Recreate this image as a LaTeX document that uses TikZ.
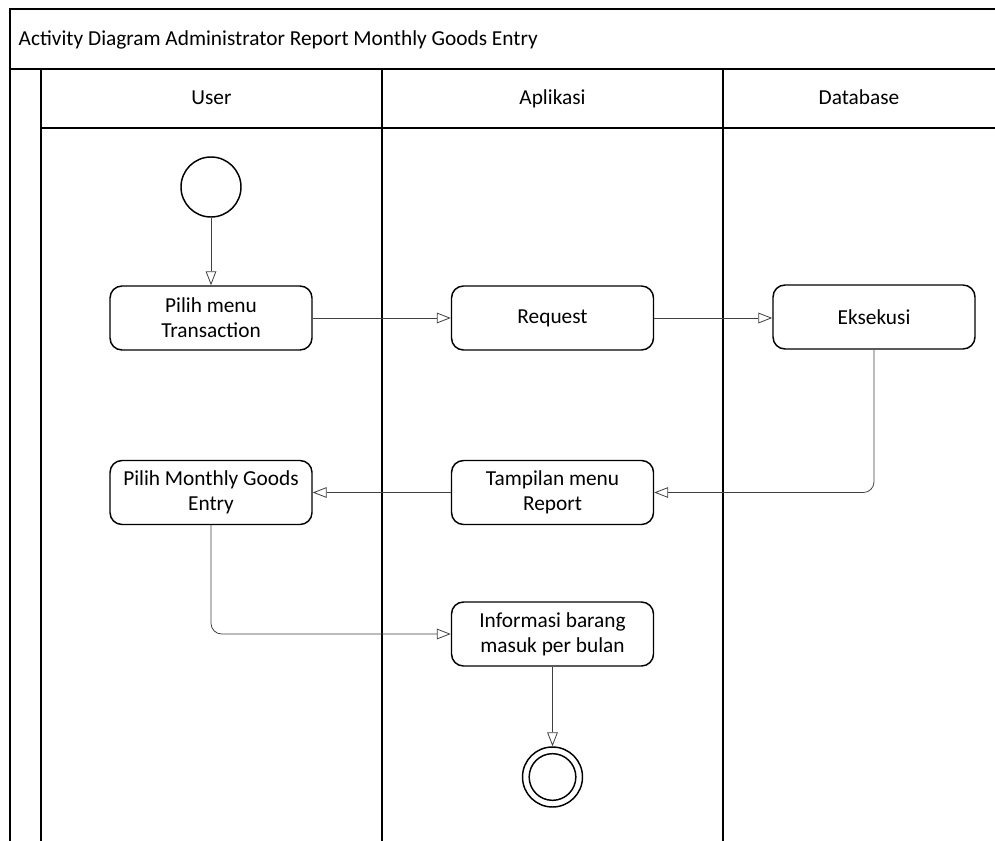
\documentclass[tikz,border=0pt]{standalone}
\usepackage{fontspec}
\setmainfont{Carlito}
\usetikzlibrary{
  calc,
  arrows.meta,
  positioning}

\begin{document}
\begin{tikzpicture}[x=0.75pt,y=-0.75pt]
  \tikzset{lane line/.style={draw=black,line width=1.4pt},
           act box/.style={draw=black,line width=1.1pt,rectangle,rounded corners=9pt,
                           minimum width=151.5pt,minimum height=48pt,align=center,
                           inner sep=2pt,font=\fontsize{16}{19}\selectfont},
           flow/.style={draw=black!75,line width=0.6pt,rounded corners=8pt,
                        -{Triangle[open,length=10.5pt,width=8pt,fill=white]}},
           lane head/.style={font=\fontsize{16}{19}\selectfont,anchor=base}
                                   }

%%%%%%%%%%%%%%%%%%%%%%%%%%%%%%%%%%%%%%%%%%%%%%%%%%%%%%%%%%%%%%%%%%%%%%%%%%%%%%

\useasboundingbox (0,0) rectangle (995,841);

%%%%%%%%%%%%%%%%%%%%%%%%%%%%%%%%%%%%%%%%%%%%%%%%%%%%%%%%%%%%%%%%%%%%%%%%%%%%%%

\draw[lane line] (995,9) -- (10,9) -- (10,841);
\draw[lane line] (10,69) -- (995,69);
\draw[lane line] (41,69) -- (41,841);
\draw[lane line] (41,128) -- (995,128);
\draw[lane line] (382,69) -- (382,841);
\draw[lane line] (723,69) -- (723,841);

\node[lane head,anchor=base west] (TITLE) at (14,46) {Activity Diagram Administrator Report Monthly Goods Entry};
\node[lane head] (USR) at (211.5,105) {User};
\node[lane head] (APP) at (552.5,105) {Aplikasi};
\node[lane head] (DB) at (859,105) {Database};

%%%%%%%%%%%%%%%%%%%%%%%%%%%%%%%%%%%%%%%%%%%%%%%%%%%%%%%%%%%%%%%%%%%%%%%%%%%%%%

\node[draw,circle,line width=1.1pt,minimum size=45pt,inner sep=0pt] (START) at (211,187) {};

\node[act box] (PMT) at (211,318) {Pilih menu\\Transaction};
\node[act box] (REQ) at (552.5,318) {Request};
\node[act box] (EKS) at (874,317) {Eksekusi};
\node[act box] (TMR) at (552.5,492.5) {Tampilan menu\\Report};
\node[act box] (PMG) at (211,492.5) {Pilih Monthly Goods\\Entry};
\node[act box] (INF) at (552.5,634) {Informasi barang\\masuk per bulan};

\node[draw,circle,line width=1.1pt,minimum size=45pt,inner sep=0pt] (END) at (552.5,777) {};
\node[draw,circle,line width=1.1pt,minimum size=35pt,inner sep=0pt] (ENDIN) at (END) {};

%%%%%%%%%%%%%%%%%%%%%%%%%%%%%%%%%%%%%%%%%%%%%%%%%%%%%%%%%%%%%%%%%%%%%%%%%%%%%%
\draw[flow] (START) -- (PMT);
\draw[flow] (PMT) -- (REQ);
\draw[flow] (REQ) -- (EKS.west |- REQ);
\draw[flow] (EKS) |- (TMR);
\draw[flow] (TMR) -- (PMG);
\draw[flow] (PMG) |- (INF);
\draw[flow] (INF) -- (END);

%%%%%%%%%%%%%%%%%%%%%%%%%%%%%%%%%%%%%%%%%%%%%%%%%%%%%%%%%%%%%%%%%%%%%%%%%%%%%%

\end{tikzpicture}
\end{document}
